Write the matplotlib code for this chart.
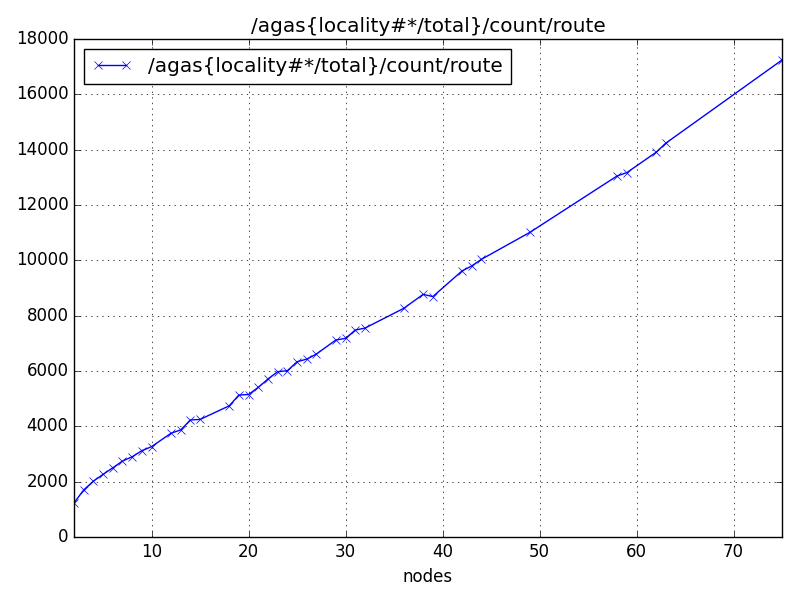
import matplotlib
matplotlib.use("Agg")
import matplotlib.pyplot as plt

plt.style.use('classic')

nodes = [2, 3, 4, 5, 6, 7, 8, 9, 10, 12, 13, 14, 15, 18, 19, 20, 21, 22, 23, 24,
         25, 26, 27, 29, 30, 31, 32, 36, 38, 39, 42, 43, 44, 49, 58, 59, 62, 63, 75]
route = [1230, 1700, 2020, 2265, 2500, 2745, 2900, 3120, 3265, 3750, 3870, 4230, 4250,
         4740, 5130, 5150, 5410, 5710, 5975, 6010, 6335, 6430, 6615, 7120, 7180,
         7480, 7550, 8265, 8770, 8690, 9615, 9795, 10035, 11010, 13050, 13170,
         13900, 14230, 17240]
label = '/agas{locality#*/total}/count/route'

fig = plt.figure(figsize=(8, 6), dpi=100)
ax = fig.add_axes([0.0925, 0.105, 0.885, 0.83])
ax.plot(nodes, route, 'bx-', label=label)
ax.set_xlim(2, 75)
ax.set_ylim(0, 18000)
ax.set_title(label)
ax.set_xlabel('nodes')
ax.grid(True)
ax.legend(loc='upper left')
fig.savefig('out.png', dpi=100)
